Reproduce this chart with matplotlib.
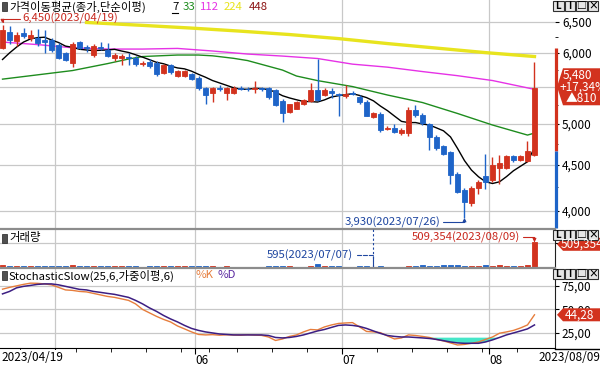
import numpy as np
import pandas as pd
import matplotlib
matplotlib.use('Agg')
import matplotlib.pyplot as plt
from matplotlib.patches import Polygon, Rectangle
from matplotlib.ticker import FixedLocator, NullFormatter, FuncFormatter

plt.rcParams['font.family'] = ['Noto Sans CJK KR', 'DejaVu Sans']
plt.rcParams['font.size'] = 8.5

# trading days in view (2023)
apr = [19, 20, 21, 24, 25, 26, 27, 28]
may = [2, 3, 4, 8, 9, 10, 11, 12, 15, 16, 17, 18, 19, 22, 23, 24, 25, 26, 30, 31]
jun = [1, 2, 5, 7, 8, 9, 12, 13, 14, 15, 16, 19, 20, 21, 22, 23, 26, 27, 28, 29, 30]
jul = [3, 4, 5, 6, 7, 10, 11, 12, 13, 14, 17, 18, 19, 20, 21, 24, 25, 26, 27, 28, 31]
aug = [1, 2, 3, 4, 7, 8, 9]

opens = [6080, 6335, 6185, 6320, 6230, 6240, 6200, 6200, 6120, 5995,
         5850, 6170, 6090, 5965, 6100, 6045, 5920, 5918, 5940, 5918,
         5826, 5855, 5840, 5695, 5815, 5655, 5650, 5680, 5630, 5483,
         5420, 5490, 5420, 5410, 5490, 5475, 5465, 5480, 5480, 5455,
         5300, 5150, 5200, 5260, 5300, 5455, 5390, 5440, 5395, 5375,
         5420, 5355, 5290, 5090, 5130, 4940, 4950, 4890, 4890, 5180,
         5120, 5000, 4840, 4730, 4650, 4400, 4220, 4080, 4245, 4375,
         4330, 4470, 4470, 4605, 4560, 4550, 4620]
highs = [6450, 6430, 6330, 6390, 6360, 6380, 6362, 6240, 6150, 6010,
         6170, 6190, 6130, 6140, 6170, 6150, 6000, 5990, 6000, 5950,
         5870, 5900, 5870, 5830, 5830, 5740, 5745, 5700, 5650, 5500,
         5500, 5530, 5500, 5510, 5510, 5500, 5580, 5500, 5500, 5470,
         5330, 5270, 5300, 5330, 5560, 5910, 5480, 5490, 5420, 5520,
         5440, 5390, 5320, 5160, 5150, 4970, 5000, 4950, 5220, 5250,
         5140, 5010, 4860, 4740, 4670, 4420, 4240, 4260, 4330, 4630,
         4600, 4620, 4620, 4620, 4620, 4790, 5860]
lows = [6060, 6140, 6110, 6240, 6180, 6110, 6000, 6020, 5900, 5870,
        5790, 6060, 6020, 5940, 6040, 5940, 5870, 5820, 5815, 5800,
        5800, 5780, 5650, 5680, 5690, 5640, 5640, 5600, 5450, 5270,
        5290, 5440, 5320, 5400, 5450, 5440, 5420, 5440, 5330, 5230,
        5020, 5140, 5190, 5250, 5290, 5300, 5370, 5345, 5103, 5350,
        5380, 5270, 5100, 5080, 4900, 4920, 4880, 4860, 4850, 5090,
        4990, 4680, 4680, 4620, 4290, 4190, 3930, 4050, 4180, 4230,
        4310, 4290, 4450, 4530, 4550, 4540, 4610]
closes = [6360, 6200, 6290, 6270, 6290, 6150, 6170, 6045, 5925, 5893,
          6140, 6075, 6070, 6105, 6080, 5957, 5965, 5957, 5918, 5826,
          5850, 5805, 5680, 5815, 5715, 5725, 5730, 5612, 5480, 5385,
          5483, 5475, 5488, 5488, 5475, 5465, 5480, 5465, 5360, 5250,
          5140, 5260, 5290, 5317, 5455, 5317, 5455, 5420, 5380, 5395,
          5405, 5290, 5110, 5140, 4923, 4955, 4895, 4923, 5180, 5115,
          5010, 4830, 4700, 4635, 4390, 4200, 4095, 4245, 4305, 4310,
          4500, 4520, 4605, 4560, 4605, 4670, 5480]
volumes = [45000, 30000, 25000, 20000, 22000, 25000, 28000, 24000, 30000, 22000,
           35000, 20000, 15000, 18000, 14000, 16000, 12000, 15000, 13000, 18000,
           10000, 14000, 25000, 16000, 14000, 12000, 11000, 13000, 22000, 20000,
           15000, 9000, 12000, 10000, 8000, 7000, 9000, 6000, 14000, 20000,
           24000, 12000, 10000, 9000, 22000, 60000, 15000, 11000, 18000, 10000,
           7000, 12000, 20000, 595, 22000, 6000, 9000, 7000, 28000, 15000,
           40000, 25000, 18000, 38000, 42000, 40000, 30000, 25000, 18000, 45000,
           30000, 42000, 28000, 15000, 20000, 45000, 509354]

# moving averages (history before 04/19 not in view)
ma7_head = [5900, 6000, 6090, 6170, 6220, 6240]
ma33_idx = [0, 5, 10, 15, 18, 20, 25, 28, 30, 33, 35, 40, 42, 45, 50, 55, 60, 65, 70, 75, 76]
ma33_val = [5610, 5672, 5735, 5838, 5907, 5945, 5968, 5968, 5956, 5918, 5884,
            5742, 5655, 5589, 5504, 5386, 5283, 5137, 4987, 4860, 4885]
ma112_idx = [0, 5, 10, 15, 20, 25, 30, 35, 40, 45, 50, 55, 60, 65, 70, 76]
ma112_val = [6170, 6130, 6080, 6060, 6060, 6070, 6030, 5983, 5952, 5915,
             5830, 5785, 5720, 5660, 5590, 5465]
ma224_idx = [12, 20, 27, 34, 41, 48, 55, 62, 69, 76]
ma224_val = [6488, 6440, 6395, 6345, 6290, 6225, 6146, 6075, 6005, 5945]

stoch_k = [71.5, 73.4, 75.0, 76.6, 77.9, 77.7, 77.1, 76.1, 73.4, 70.7,
           70.2, 69.1, 68.6, 67.0, 65.4, 63.8, 62.8, 61.2, 59.6, 55.9,
           50.0, 46.3, 42.6, 39.4, 36.7, 32.4, 29.3, 26.1, 23.4, 22.9,
           23.2, 22.6, 23.0, 22.8, 22.5, 23.1, 22.7, 22.4, 20.7, 17.0,
           18.6, 21.3, 22.9, 26.1, 28.7, 28.2, 31.4, 33.5, 35.1, 35.6,
           36.0, 31.4, 26.6, 26.1, 25.3, 21.8, 18.6, 19.7, 22.9, 22.3,
           21.3, 20.2, 18.1, 16.5, 14.4, 12.2, 12.8, 14.0, 15.4, 18.1,
           20.7, 24.7, 26.1, 27.7, 30.3, 33.5, 44.28]
stoch_d = [66.5, 69.1, 72.9, 74.5, 75.5, 76.6, 77.1, 77.1, 76.1, 74.5,
           72.9, 71.3, 70.7, 69.1, 68.1, 67.0, 66.0, 64.4, 62.8, 59.6,
           55.9, 51.6, 47.9, 43.6, 39.9, 36.7, 33.0, 29.8, 27.7, 26.1,
           25.0, 23.9, 23.4, 22.9, 22.9, 22.9, 22.9, 22.9, 22.3, 20.2,
           19.7, 20.2, 21.3, 22.9, 25.0, 27.1, 28.7, 30.9, 33.0, 33.5,
           33.0, 31.9, 29.8, 27.1, 24.5, 22.3, 21.3, 20.7, 20.7, 20.2,
           19.7, 19.1, 18.1, 16.8, 15.4, 14.4, 14.0, 14.0, 14.0, 15.4,
           17.6, 20.2, 22.9, 25.0, 27.1, 29.3, 33.5]

ma_periods = ['7', '33', '112', '224', '448']
ma_colors = ['black', '#1e8c1e', '#e632e6', '#e8e41e', '#8c1414']

RED = '#d2321e'
BLUE = '#1e64c8'
RED_TXT = '#c8281e'
BLUE_TXT = '#1e46a0'
GRID = '#c8c8c8'
W, H = 600, 366

days = ([f'2023-04-{d:02d}' for d in apr] + [f'2023-05-{d:02d}' for d in may]
        + [f'2023-06-{d:02d}' for d in jun] + [f'2023-07-{d:02d}' for d in jul]
        + [f'2023-08-{d:02d}' for d in aug])
dates = pd.to_datetime(days)
n = len(dates)
x = np.arange(n)
o, h, l, c = (np.array(v, dtype=float) for v in (opens, highs, lows, closes))
colors = np.where(c >= o, RED, BLUE)

ma7 = pd.Series(c).rolling(7).mean().to_numpy()
ma7[:6] = ma7_head

month_start = [i for i in range(1, n) if dates[i].month != dates[i - 1].month]
week_start = [i for i in range(1, n)
              if dates[i].isocalendar()[1] != dates[i - 1].isocalendar()[1] and i not in month_start]

fig = plt.figure(figsize=(W / 100, H / 100), dpi=100)


def panel(top, bottom):
    return fig.add_axes([0, 1 - bottom / H, 555 / W, (bottom - top) / H])


ax_p = panel(0, 228)
ax_v = panel(229, 267)
ax_s = panel(268, 348)

for ax in (ax_p, ax_v, ax_s):
    ax.set_xlim(-0.36, 78.93)
    ax.spines['left'].set_visible(False)
    ax.spines['top'].set_visible(False)
    ax.spines['bottom'].set_visible(False)
    ax.spines['right'].set_color('#202020')
    ax.yaxis.tick_right()
    ax.tick_params(axis='y', direction='out', length=3, pad=2, labelsize=8.5)
    ax.tick_params(axis='x', which='both', bottom=False, labelbottom=False)
    for m in month_start:
        ax.axvline(m - 0.5, color=GRID, lw=0.9, zorder=0)
    ax.set_axisbelow(True)

ax_v.spines['top'].set_visible(True)
ax_s.spines['top'].set_visible(True)
for ax in (ax_v, ax_s):
    ax.spines['top'].set_color('#8c8c8c')
    ax.spines['top'].set_linewidth(1.6)
ax_s.spines['bottom'].set_visible(True)
ax_s.spines['bottom'].set_color('black')

# ---- price panel
ax_p.set_yscale('log')
ax_p.set_ylim(3829, 6873)
ax_p.yaxis.set_major_locator(FixedLocator([4000, 4500, 5000, 5500, 6000, 6500]))
ax_p.yaxis.set_major_formatter(FuncFormatter(lambda v, _: f'{v:,.0f}'))
ax_p.yaxis.set_minor_locator(FixedLocator([4250, 4750, 5250, 5750, 6250]))
ax_p.yaxis.set_minor_formatter(NullFormatter())
ax_p.tick_params(axis='y', which='minor', direction='out', length=2)
ax_p.grid(axis='y', which='major', color=GRID, lw=0.9)
ax_p.spines['right'].set_visible(False)

ax_p.plot(ma224_idx, ma224_val, color=ma_colors[3], lw=2.4, zorder=2)
ax_p.plot(ma112_idx, ma112_val, color=ma_colors[2], lw=1, zorder=2)
ax_p.plot(ma33_idx, ma33_val, color=ma_colors[1], lw=1, zorder=2)
ax_p.plot(x, ma7, color=ma_colors[0], lw=1, zorder=2)

ax_p.vlines(x, l, h, colors=colors, lw=1, zorder=3)
body_lo = np.minimum(o, c)
body_hi = np.maximum(o, c)
ax_p.bar(x, body_hi - body_lo, bottom=body_lo, width=0.72, color=colors,
         edgecolor=colors, lw=0.6, zorder=4)

# price limit bar on the axis (upper limit red, below previous close blue)
prev = c[-2]
y_lo, y_hi = ax_p.get_ylim()
xr = ax_p.get_xlim()[1] + 1.5 / 7
ax_p.vlines(xr, prev, min(prev * 1.3, y_hi), color=RED, lw=2.3, clip_on=False, zorder=5)
ax_p.vlines(xr, y_lo, prev, color=BLUE, lw=2.3, clip_on=False, zorder=5)

ih = int(np.argmax(h))
ax_p.annotate(f'{h[ih]:,.0f}({dates[ih]:%Y/%m/%d})', xy=(ih, h[ih]), xytext=(20, 6),
              textcoords='offset pixels', ha='left', va='center', color=RED_TXT, fontsize=8.2,
              arrowprops=dict(arrowstyle='-|>', color=RED_TXT, lw=0.8, shrinkA=0, shrinkB=1,
                              relpos=(0, 0.5), mutation_scale=5,
                              connectionstyle='angle,angleA=0,angleB=90,rad=0'))
il = int(np.argmin(l))
ax_p.annotate(f'{l[il]:,.0f}({dates[il]:%Y/%m/%d})', xy=(il, l[il]), xytext=(-24, -4),
              textcoords='offset pixels', ha='right', va='center', color=BLUE_TXT, fontsize=8.2,
              arrowprops=dict(arrowstyle='-|>', color=BLUE_TXT, lw=0.8, shrinkA=0, shrinkB=0,
                              relpos=(1, 0.5), mutation_scale=5,
                              connectionstyle='angle,angleA=0,angleB=90,rad=0'))

# ---- volume panel
vol = np.array(volumes)
ax_v.bar(x, vol, width=0.72, color=colors, edgecolor=colors, lw=0.6, zorder=3)
ax_v.set_ylim(0, 783600)
ax_v.yaxis.set_major_locator(FixedLocator([500000]))
ax_v.yaxis.set_major_formatter(NullFormatter())
ax_v.grid(axis='y', color=GRID, lw=0.9)

iv = int(np.argmax(vol))
ax_v.annotate(f'{vol[iv]:,}({dates[iv]:%Y/%m/%d})', xy=(iv, vol[iv]), xytext=(-14, 5),
              textcoords='offset pixels', ha='right', va='center', color=RED_TXT, fontsize=8.2,
              arrowprops=dict(arrowstyle='-|>', color=RED_TXT, lw=0.8, shrinkA=0, shrinkB=0,
                              relpos=(1, 0.5), mutation_scale=5,
                              connectionstyle='angle,angleA=0,angleB=90,rad=0'))
iv0 = int(np.argmin(vol))
ax_v.axvline(iv0, color=BLUE_TXT, lw=0.8, ls=(0, (2, 2)), zorder=4)
ax_v.annotate(f'{vol[iv0]:,}({dates[iv0]:%Y/%m/%d})', xy=(iv0, vol[iv0]), xytext=(-21, 12),
              textcoords='offset pixels', ha='right', va='center', color=BLUE_TXT, fontsize=8.2,
              arrowprops=dict(arrowstyle='-', color=BLUE_TXT, lw=0.8, ls='--', shrinkA=1,
                              shrinkB=0, relpos=(1, 0.5),
                              connectionstyle='angle,angleA=0,angleB=90,rad=0'))

# ---- stochastic panel
k = np.array(stoch_k)
d = np.array(stoch_d)
ax_s.fill_between(x, d, 20, where=d < 20, interpolate=True, color='#46e6c8', lw=0, zorder=1)
ax_s.plot(x, k, color='#e67d3c', lw=1, zorder=2)
ax_s.plot(x, d, color='#3c1e82', lw=1.1, zorder=3)
ax_s.set_ylim(9, 94)
ax_s.yaxis.set_major_locator(FixedLocator([25, 50, 75]))
ax_s.yaxis.set_major_formatter(FuncFormatter(lambda v, _: f'{v:.2f}'.replace('.', ',')))
ax_s.grid(axis='y', color=GRID, lw=0.9)

ax_s.set_xticks([m - 0.5 for m in month_start])
ax_s.set_xticklabels([f'{dates[m].month:02d}' if m > 10 else '' for m in month_start])
ax_s.set_xticks([w - 0.5 for w in week_start], minor=True)
ax_s.tick_params(axis='x', which='major', bottom=True, labelbottom=True, length=4, pad=0.5,
                 direction='out', labelsize=8.5)
ax_s.tick_params(axis='x', which='minor', bottom=True, length=3, direction='out')
for lab in ax_s.get_xticklabels():
    lab.set_ha('left')

# ---- overlay in pixel units: headers, tags, window buttons
ov = fig.add_axes([0, 0, 1, 1], zorder=10)
ov.set_xlim(0, W)
ov.set_ylim(H, 0)
ov.axis('off')


def pix_y(ax, v):
    return H - ax.transData.transform((0, v))[1]


def header(y, label):
    ov.add_patch(Rectangle((2, y - 4.5), 4.5, 9, fc='#505050', ec='#202020', lw=0.5))
    ov.text(9, y, label, va='center', ha='left', fontsize=8.2)


header(6.5, '가격이동평균(종가,단순이평)')
for px, lab, col in zip([172, 183, 200, 224, 249], ma_periods, ma_colors):
    ov.text(px, 6.5, lab, va='center', ha='left', fontsize=8.2, color=col)
ov.plot([171.5, 178], [12.5, 12.5], color='black', lw=0.8)
header(238, '거래량')
header(275.5, 'StochasticSlow(25,6,가중이평,6)')
ov.text(196, 275.5, '%K', va='center', ha='left', fontsize=8.2, color='#e67d3c')
ov.text(218, 275.5, '%D', va='center', ha='left', fontsize=8.2, color='#5a28a0')


def tag(yc, half, lines, dy):
    ov.add_patch(Polygon([(557, yc), (563, yc - half), (W, yc - half), (W, yc + half),
                          (563, yc + half)], closed=True, fc=RED, ec='none'))
    for j, (s, px) in enumerate(lines):
        ov.text(px, yc + (j - (len(lines) - 1) / 2) * dy, s, color='white', va='center',
                ha='left', fontsize=8.5)


chg = c[-1] - c[-2]
pct = chg / c[-2] * 100
tag(pix_y(ax_p, c[-1]) - 1.5, 18.5,
    [(f'{c[-1]:,.0f}', 563), (f'{pct:+.2f}%'.replace('.', ','), 560), (f'▲{chg:,.0f}', 566)], 11.5)
tag(pix_y(ax_v, vol[-1]) + 2, 6.5, [(f'{vol[-1]:,}', 561)], 0)
tag(pix_y(ax_s, k[-1]), 6.5, [(f'{k[-1]:.2f}'.replace('.', ','), 565)], 0)


def buttons(top):
    for j, s in enumerate(['L', 'I', '□', '×']):
        x0 = 553 + j * 11.5
        ov.add_patch(Rectangle((x0, top), 10.5, 10, fc='#e6e6e6', ec='#303030', lw=0.8))
        ov.text(x0 + 5.25, top + 5, s, ha='center', va='center', fontsize=7, fontweight='bold')


buttons(1)
buttons(230)
buttons(269)

ov.plot([555, W], [348.5, 348.5], color='black', lw=1)
ov.text(1, 357.5, f'{dates[0]:%Y/%m/%d}', ha='left', va='center', fontsize=8.5,
        bbox=dict(fc='white', ec='none', pad=0.5))
ov.text(538, 357.5, f'{dates[-1]:%Y/%m/%d}', ha='left', va='center', fontsize=8.5)

fig.savefig('out.png', dpi=100)
